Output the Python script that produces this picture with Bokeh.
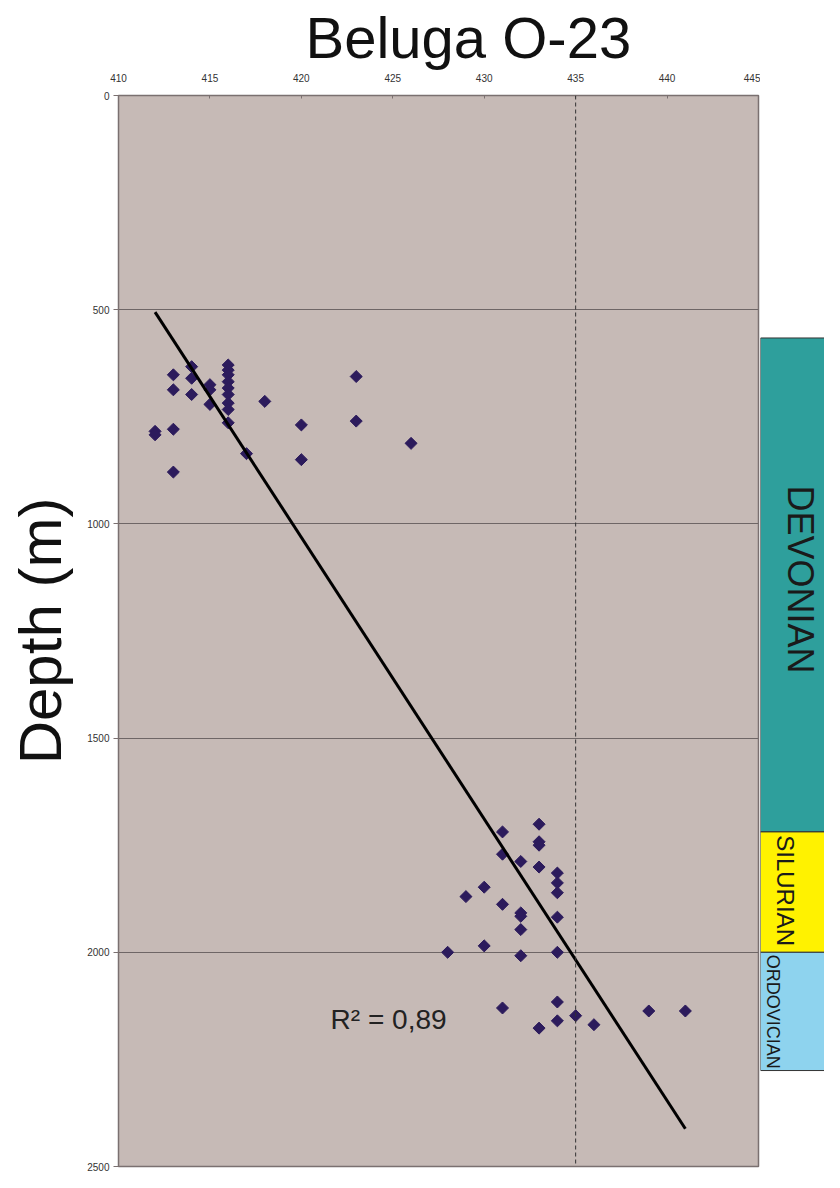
import numpy as np
from bokeh.plotting import figure
from bokeh.layouts import row
from bokeh.models import ColumnDataSource, Span, Label, Range1d, FixedTicker
from bokeh.embed import file_html
from bokeh.resources import INLINE
from bokeh.core.properties import value

# ---- data ----
tmax = [413, 413, 414, 414, 414, 415, 415, 415, 416, 416, 416, 416, 416, 416, 416, 416, 416,
        412, 412, 413, 413, 417, 418, 420, 420, 423, 423, 426,
        433, 431, 433, 433, 431, 432, 433, 434, 434, 434, 430, 429, 431, 432, 432, 434, 432,
        428, 430, 432, 434, 434, 431, 435, 434, 433, 436, 439, 441]
depth = [652, 687, 633, 660, 698, 675, 687, 721, 629, 641, 652, 668, 683, 698, 718, 733, 764,
         784, 792, 779, 879, 836, 714, 769, 850, 656, 760, 812,
         1701, 1719, 1742, 1750, 1771, 1788, 1801, 1815, 1838, 1861, 1848, 1870, 1888, 1908, 1916, 1918, 1947,
         2000, 1985, 2008, 2000, 2116, 2130, 2148, 2160, 2177, 2169, 2137, 2137]

x_ticks = [410, 415, 420, 425, 430, 435, 440, 445]
y_ticks = [0, 500, 1000, 1500, 2000, 2500]
oil_window_tmax = 435
r2_text = "R\u00b2 = 0,89"

periods = ["DEVONIAN", "SILURIAN", "ORDOVICIAN"]
period_top = [566, 1719, 2000]
period_bottom = [1719, 2000, 2276]
period_colors = ["#2E9F9C", "#FFF200", "#8ED3EE"]

FONT = "Liberation Sans"

# ---- trend line (least squares) ----
coef = np.polyfit(np.array(tmax, float), np.array(depth, float), 1)
trend_x = np.array([min(tmax), max(tmax)], float)
trend_y = np.polyval(coef, trend_x)

y_range = Range1d(2500, 0)
H = 1172
TOP = 95
BOTTOM = 6

p = figure(width=760, height=H, x_range=Range1d(410, 445), y_range=y_range,
           x_axis_location="above", output_backend="svg", toolbar_location=None,
           min_border_left=118, min_border_right=2, min_border_top=TOP, min_border_bottom=BOTTOM,
           title="Beluga O-23")
p.title.text_font = FONT
p.title.text_font_size = "58px"
p.title.text_font_style = "normal"
p.title.text_color = "#111111"
p.title.align = "left"
p.title.offset = 187
p.title.standoff = 2

p.background_fill_color = "#C6BAB6"
p.border_fill_color = "white"
p.outline_line_color = "#7A7070"
p.outline_line_width = 1.5

p.xgrid.visible = False
p.ygrid.ticker = FixedTicker(ticks=y_ticks)
p.ygrid.grid_line_color = "#6E6666"
p.ygrid.grid_line_width = 1

p.xaxis.ticker = FixedTicker(ticks=x_ticks)
p.yaxis.ticker = FixedTicker(ticks=y_ticks)
for ax in (p.xaxis[0], p.yaxis[0]):
    ax.major_label_text_font = FONT
    ax.major_label_text_font_size = "10px"
    ax.major_label_text_color = "#333333"
    ax.axis_line_color = "#7A7070"
    ax.major_tick_line_color = "#7A7070"
    ax.minor_tick_line_color = None
p.xaxis.major_label_standoff = 14
p.yaxis.major_label_standoff = 4
p.xaxis.major_tick_in = 3
p.xaxis.major_tick_out = 0
p.yaxis.major_tick_in = 0
p.yaxis.major_tick_out = 5

p.yaxis.axis_label = "Depth (m)"
p.yaxis.axis_label_text_font = FONT
p.yaxis.axis_label_text_font_size = "60px"
p.yaxis.axis_label_text_font_style = "normal"
p.yaxis.axis_label_text_color = "#111111"
p.yaxis.axis_label_standoff = 10

src = ColumnDataSource(dict(x=tmax, y=depth))
p.scatter("x", "y", source=src, marker="square", angle=np.pi / 4, size=8.5,
          fill_color="#2C1B5C", line_color="#2C1B5C")

p.line(trend_x, trend_y, line_color="black", line_width=3)

p.add_layout(Span(location=oil_window_tmax, dimension="height", line_color="#333333",
                  line_dash="4 3", line_width=1))

p.add_layout(Label(x=421.6, y=2157, text=r2_text, text_font=FONT, text_font_size="28px",
                   text_color="#222222", text_baseline="middle"))

# ---- stratigraphic column ----
c = figure(width=64, height=H, x_range=Range1d(0, 64), y_range=y_range,
           output_backend="svg", toolbar_location=None,
           min_border_left=0, min_border_right=0, min_border_top=TOP, min_border_bottom=BOTTOM)
c.axis.visible = False
c.grid.visible = False
c.outline_line_color = None
c.background_fill_color = "white"
c.quad(left=0, right=90, top=period_top, bottom=period_bottom, fill_color=period_colors,
       line_color="#333333", line_width=1)
label_x = [40, 25, 12]
label_y = [1130, 1856, 2139]
label_size = ["36px", "24px", "18px"]
c.text(x=label_x, y=label_y, text=periods, angle=-np.pi / 2,
       text_font=value(FONT), text_font_size=label_size, text_color="#1A1A1A",
       text_align="center", text_baseline="middle")

layout = row(p, c, spacing=0)
open("out.html", "w").write(file_html(layout, INLINE))
